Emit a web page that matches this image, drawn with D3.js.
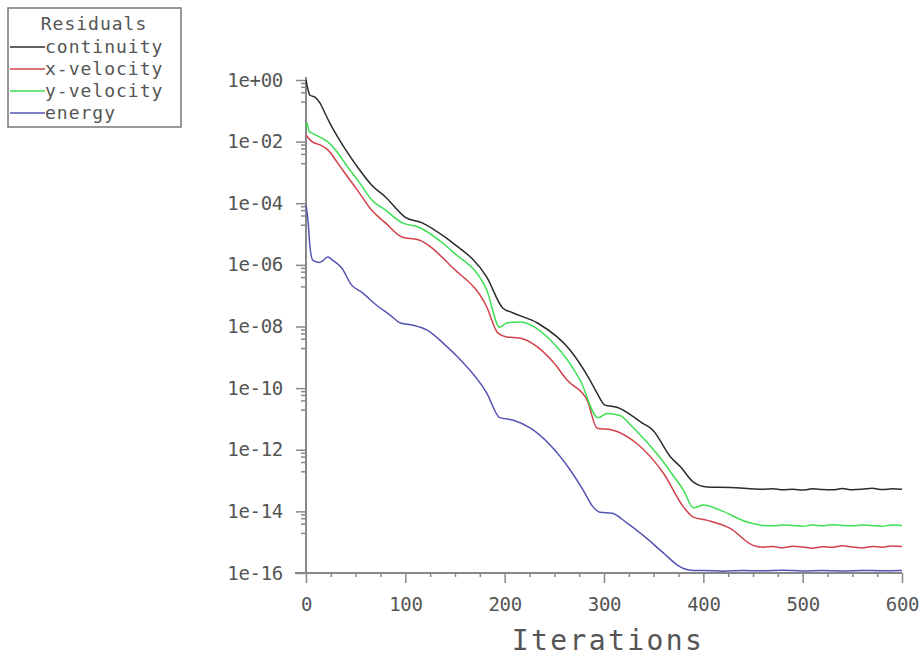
<!DOCTYPE html>
<html>
<head>
<meta charset="utf-8">
<script src="https://cdn.jsdelivr.net/npm/d3@7"></script>
<style>
  body { margin: 0; background: #fff; }
  svg { display: block; }
  text { font-family: "DejaVu Sans Mono", "Liberation Mono", monospace; fill: #555; }
</style>
</head>
<body>
<div class="canvas"></div>
<script>
// Residual history (iteration, residual)
const continuityIter = [0, 4, 9, 14, 19, 24, 32, 42, 54, 66, 80, 100, 117, 140, 148, 182, 198, 208, 233, 266, 286, 293, 301, 313, 339, 349, 367, 377, 390, 404, 427, 460,
  470, 480, 490, 500, 510, 520, 530, 540, 550, 560, 570, 580, 590, 600];
const continityRes = [1.0, 3.2e-1, 2.8e-1, 1.8e-1, 8.5e-2, 4.0e-2, 1.4e-2, 4.3e-3, 1.2e-3, 3.9e-4, 1.6e-4, 3.5e-5, 2.3e-5, 7.9e-6, 5.1e-6, 4.0e-7, 4.0e-8, 2.8e-8, 1.3e-8, 1.7e-9, 1.8e-10, 6.9e-11, 2.8e-11, 2.4e-11, 7.2e-12, 4.4e-12, 5.8e-13, 2.8e-13, 8.9e-14, 6.2e-14, 6.0e-14, 5.2e-14,
  5.4e-14, 5.0e-14, 5.2e-14, 4.9e-14, 5.4e-14, 5.1e-14, 5.0e-14, 5.5e-14, 5.0e-14, 5.2e-14, 5.6e-14, 5.1e-14, 5.4e-14, 5.2e-14];

const xVelIter = [0, 6, 14, 22, 32, 42, 54, 66, 80, 97, 113, 148, 182, 193, 202, 215, 249, 263, 283, 293, 308, 333, 360, 380, 390, 404, 427, 450, 460,
  470, 480, 490, 500, 510, 520, 530, 540, 550, 560, 570, 580, 590, 600];
const xVelRes = [1.6e-2, 1.0e-2, 7.8e-3, 5.4e-3, 2.0e-3, 7.1e-4, 2.1e-4, 6.0e-5, 2.3e-5, 7.9e-6, 6.5e-6, 7.9e-7, 4.3e-8, 6.2e-9, 4.6e-9, 4.2e-9, 6.9e-10, 1.8e-10, 4.1e-11, 5.0e-12, 4.4e-12, 1.6e-12, 1.7e-13, 1.4e-14, 6.5e-15, 5.1e-15, 2.8e-15, 7.9e-16, 6.9e-16,
  7.2e-16, 6.6e-16, 7.4e-16, 7.0e-16, 6.3e-16, 7.1e-16, 6.8e-16, 7.6e-16, 7.0e-16, 6.5e-16, 7.3e-16, 6.9e-16, 7.5e-16, 7.2e-16];

const yVelIter = [0, 1, 3, 6, 14, 22, 32, 42, 54, 66, 80, 97, 113, 140, 148, 182, 195, 202, 215, 249, 276, 294, 303, 316, 329, 356, 370, 380, 390, 400, 417, 444, 460,
  470, 480, 490, 500, 510, 520, 530, 540, 550, 560, 570, 580, 590, 600];
const yVelRes = [3.0e-2, 4.0e-2, 2.2e-2, 1.9e-2, 1.4e-2, 9.8e-3, 4.3e-3, 1.5e-3, 4.6e-4, 1.3e-4, 6.0e-5, 2.3e-5, 1.7e-5, 4.4e-6, 2.6e-6, 1.5e-7, 9.5e-9, 1.3e-8, 1.4e-8, 2.9e-9, 1.8e-10, 1.1e-11, 1.5e-11, 1.3e-11, 5.4e-12, 5.8e-13, 1.4e-13, 4.9e-14, 1.3e-14, 1.6e-14, 1.1e-14, 4.5e-15, 3.5e-15,
  3.4e-15, 3.6e-15, 3.5e-15, 3.3e-15, 3.6e-15, 3.4e-15, 3.7e-15, 3.5e-15, 3.4e-15, 3.6e-15, 3.5e-15, 3.3e-15, 3.6e-15, 3.5e-15];

const energyIter = [0, 2, 4, 7, 14, 22, 27, 36, 46, 56, 71, 85, 95, 108, 122, 138, 153, 182, 195, 209, 226, 246, 266, 279, 289, 296, 308, 323, 346, 360, 374, 380, 390,
  400, 420, 440, 460, 480, 500, 520, 540, 560, 580, 600];
const energyRes = [8.9e-5, 2.8e-5, 3.8e-6, 1.4e-6, 1.2e-6, 1.8e-6, 1.4e-6, 7.9e-7, 2.2e-7, 1.3e-7, 4.9e-8, 2.3e-8, 1.3e-8, 1.1e-8, 7.6e-9, 2.9e-9, 1.0e-9, 6.9e-11, 1.1e-11, 9.1e-12, 5.0e-12, 1.4e-12, 2.2e-13, 4.9e-14, 1.4e-14, 9.3e-15, 8.7e-15, 4.2e-15, 1.1e-15, 4.4e-16, 1.8e-16, 1.4e-16, 1.2e-16,
  1.2e-16, 1.15e-16, 1.2e-16, 1.18e-16, 1.22e-16, 1.17e-16, 1.2e-16, 1.16e-16, 1.21e-16, 1.18e-16, 1.2e-16];

const seriesNames = ["continuity", "x-velocity", "y-velocity", "energy"];
const seriesColors = ["#2b2b2b", "#d2404c", "#3ce052", "#5454b4"];
const seriesIter = [continuityIter, xVelIter, yVelIter, energyIter];
const seriesRes = [continityRes, xVelRes, yVelRes, energyRes];

const yMajorExp = [0, -2, -4, -6, -8, -10, -12, -14, -16];
const xMajorTicks = [0, 100, 200, 300, 400, 500, 600];

const width = 921, height = 658;

const svg = d3.select(".canvas")
  .append("svg")
  .attr("width", width)
  .attr("height", height);

// Scales
const x = d3.scaleLinear().domain([0, 600]).range([306, 902]);
const y = d3.scaleLog().domain([1e-16, 1]).range([573, 80]);

const axisColor = "#888";

// Y axis - major ticks with labels
const yAxis = svg.append("g")
  .attr("transform", `translate(${x(0)},0)`)
  .call(d3.axisLeft(y)
    .tickValues(yMajorExp.map(e => Math.pow(10, e)))
    .tickFormat((d, i) => {
      const e = yMajorExp[i];
      return "1e" + (e >= 0 ? "+" : "-") + String(Math.abs(e)).padStart(2, "0");
    })
    .tickSize(10)
    .tickPadding(13)
    .tickSizeOuter(0));
yAxis.select(".domain").remove();
yAxis.selectAll("line").attr("stroke", axisColor).attr("stroke-width", 1.5);
yAxis.selectAll("text")
  .style("font-size", "19px")
  .style("letter-spacing", "-0.3px")
  .attr("fill", "#555");

// Y axis - minor ticks
const yMinor = [];
yMajorExp.filter(e => e > -16).forEach(e => {
  [8, 6, 4, 2].forEach(m => yMinor.push(m * Math.pow(10, e - 1)));
});
const yMinorAxis = svg.append("g")
  .attr("transform", `translate(${x(0)},0)`)
  .call(d3.axisLeft(y).tickValues(yMinor).tickFormat("").tickSize(5).tickSizeOuter(0));
yMinorAxis.select(".domain").remove();
yMinorAxis.selectAll("line").attr("stroke", axisColor).attr("stroke-width", 1.5);

// X axis - major ticks
const xAxis = svg.append("g")
  .attr("transform", `translate(0,${y(1e-16)})`)
  .call(d3.axisBottom(x)
    .tickValues(xMajorTicks)
    .tickFormat(d3.format("d"))
    .tickSize(10)
    .tickPadding(15)
    .tickSizeOuter(0));
xAxis.select(".domain").remove();
xAxis.selectAll("line").attr("stroke", axisColor).attr("stroke-width", 1.5);
xAxis.selectAll("text")
  .style("font-size", "19px")
  .style("letter-spacing", "-0.3px")
  .attr("fill", "#555");

// X axis - minor ticks
const xMinor = d3.range(25, 600, 25).filter(v => v % 100 !== 0);
const xMinorAxis = svg.append("g")
  .attr("transform", `translate(0,${y(1e-16)})`)
  .call(d3.axisBottom(x).tickValues(xMinor).tickFormat("").tickSize(4).tickSizeOuter(0));
xMinorAxis.select(".domain").remove();
xMinorAxis.selectAll("line").attr("stroke", axisColor).attr("stroke-width", 1.5);

// Axis lines
svg.append("line")
  .attr("x1", x(0) - 11).attr("x2", x(600))
  .attr("y1", y(1e-16)).attr("y2", y(1e-16))
  .attr("stroke", axisColor).attr("stroke-width", 2);
svg.append("line")
  .attr("x1", x(0)).attr("x2", x(0))
  .attr("y1", y(1) - 3).attr("y2", y(1e-16))
  .attr("stroke", axisColor).attr("stroke-width", 2);

// X axis title
svg.append("text")
  .attr("x", (x(0) + x(600)) / 2 + 4)
  .attr("y", 650)
  .attr("text-anchor", "middle")
  .style("font-size", "28px")
  .style("letter-spacing", "2.4px")
  .attr("fill", "#555")
  .text("Iterations");

// Residual curves
const line = d3.line()
  .x(d => x(d[0]))
  .y(d => y(d[1]))
  .curve(d3.curveMonotoneX);

seriesNames.forEach((name, i) => {
  const pts = seriesIter[i].map((it, j) => [it, seriesRes[i][j]]);
  svg.append("path")
    .datum(pts)
    .attr("fill", "none")
    .attr("stroke", seriesColors[i])
    .attr("stroke-width", 1.5)
    .attr("d", line);
});

// Legend
const legend = svg.append("g");
legend.append("rect")
  .attr("x", 8).attr("y", 8)
  .attr("width", 173).attr("height", 119)
  .attr("fill", "#fff")
  .attr("stroke", "#777")
  .attr("stroke-width", 1.5);
legend.append("text")
  .attr("x", 94).attr("y", 30)
  .attr("text-anchor", "middle")
  .style("font-size", "18px")
  .style("letter-spacing", "1px")
  .text("Residuals");

const rowY = [47, 69, 91, 113];
seriesNames.forEach((name, i) => {
  legend.append("line")
    .attr("x1", 10).attr("x2", 45)
    .attr("y1", rowY[i]).attr("y2", rowY[i])
    .attr("stroke", seriesColors[i])
    .attr("stroke-width", 1.5);
  legend.append("text")
    .attr("x", 45).attr("y", rowY[i] + 6)
    .style("font-size", "18px")
    .style("letter-spacing", "1px")
    .text(name);
});
</script>
</body>
</html>
